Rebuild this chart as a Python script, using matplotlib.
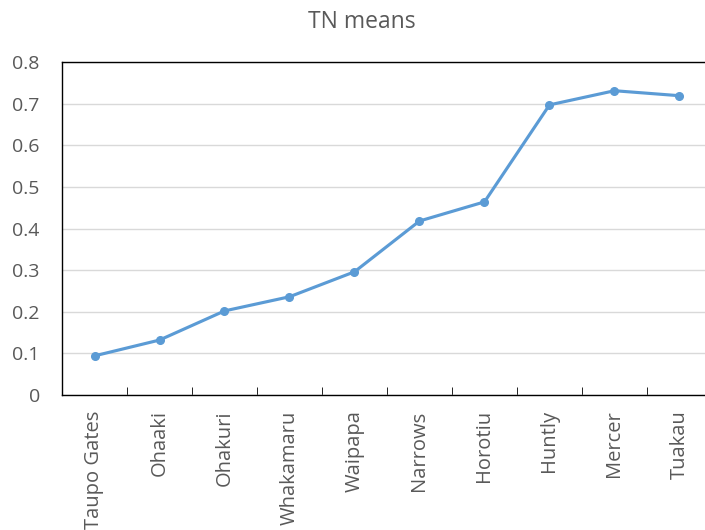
import matplotlib
matplotlib.use("Agg")
import matplotlib.pyplot as plt

sites = ["Taupo Gates", "Ohaaki", "Ohakuri", "Whakamaru", "Waipapa",
         "Narrows", "Horotiu", "Huntly", "Mercer", "Tuakau"]
tn_means = [0.094, 0.132, 0.202, 0.236, 0.296, 0.418, 0.464, 0.697, 0.731, 0.719]

plt.rcParams['font.family'] = ['Open Sans', 'DejaVu Sans']

fig = plt.figure(figsize=(7.05, 5.3), dpi=100)
ax = fig.add_axes([62 / 705, 1 - 395 / 530, 650 / 705, 333 / 530])

x = list(range(len(sites)))
ax.plot(x, tn_means, color='#5B9BD5', linewidth=2.25, marker='o', markersize=5.5)

ax.set_xlim(-0.5, len(sites) - 0.5)
ax.set_ylim(0, 0.8)
ax.set_yticks([i / 10 for i in range(9)])
ax.set_yticklabels(["0"] + ["%.1f" % (i / 10) for i in range(1, 9)])
ax.yaxis.grid(True, color='#D9D9D9', linewidth=1)
ax.set_axisbelow(True)

ax.set_xticks(x)
ax.set_xticklabels(sites, rotation=90)
ax.set_xticks([i + 0.5 for i in range(len(sites) - 1)], minor=True)
ax.tick_params(axis='x', which='major', length=0, pad=11, labelsize=14.5, labelcolor='#595959')
ax.tick_params(axis='x', which='minor', direction='in', length=6, color='black')
ax.tick_params(axis='y', length=0, pad=16, labelsize=14, labelcolor='#595959')

for s in ax.spines.values():
    s.set_color('black')
    s.set_linewidth(1)
ax.spines['right'].set_visible(False)

fig.text(362 / 705, 1 - 22 / 530, "TN means", ha='center', va='center',
         fontsize=16.5, color='#595959')

plt.savefig('out.png', dpi=100)
